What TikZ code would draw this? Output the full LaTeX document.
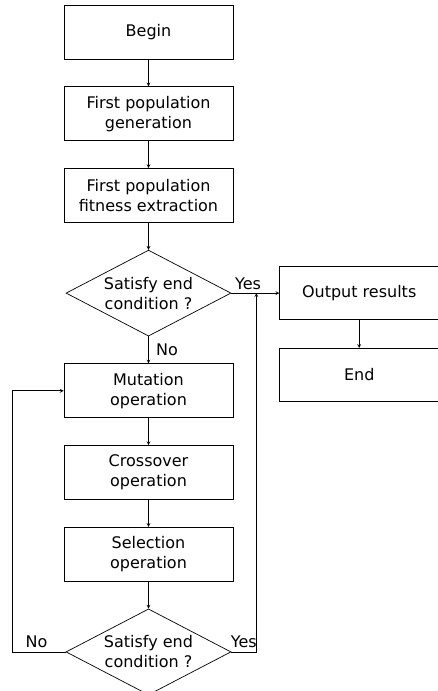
\documentclass[tikz,border=0pt]{standalone}
\usepackage{fontspec}
\setmainfont{DejaVu Sans}
\usetikzlibrary{shapes,shapes.geometric,arrows,calc,positioning}
\tikzset{blk/.style={draw, rectangle, minimum width=169pt, minimum height=54pt, inner sep=2pt, align=center}}
\tikzstyle{dec}=[draw, diamond, aspect=1.92, inner sep=0pt, minimum width=165pt, minimum height=86pt, align=center]

\begin{document}
\begin{tikzpicture}[>=stealth, node distance=27pt, line width=0.7pt, font=\fontsize{16}{20}\selectfont]
\useasboundingbox (0,0) rectangle (438pt,-691pt);
\node[blk] (B) at (148.5pt,-32pt) {Begin};
\node[blk] [below=of B] (G) {First population\\generation};
\node[blk] [below=of G] (F) {First population\\fitness extraction};
\node[dec] [below=of F] (D1) {Satisfy end\\condition ?};
\node[blk] [below=of D1] (M) {Mutation\\operation};
\node[blk] [below=of M] (C) {Crossover\\operation};
\node[blk] [below=of C] (S) {Selection\\operation};
\node[dec] [below=of S] (D2) {Satisfy end\\condition ?};
\node[blk, minimum width=159pt, minimum height=53pt] [right=48pt of D1] (O) {Output results};
\node[blk, minimum width=159pt, minimum height=53pt] [below=28pt of O] (E) {End};
\path[->] (B) edge (G)
	(G) edge (F)
	(F) edge (D1)
	(D1) edge node[right, xshift=4pt] {No} (M)
	(D1) edge node[above, pos=0.35] {Yes} (O)
	(O) edge (E)
	(M) edge (C)
	(C) edge (S)
	(S) edge (D2);
\draw[->] (D2.west) -- node[above, pos=0.55] {No} ++(-53pt,0) |- (M.west);
\draw[->] (D2.east) -- node[above] {Yes} ++(25pt,0) coordinate (yr) -- (yr |- D1.east);
\end{tikzpicture}
\end{document}
